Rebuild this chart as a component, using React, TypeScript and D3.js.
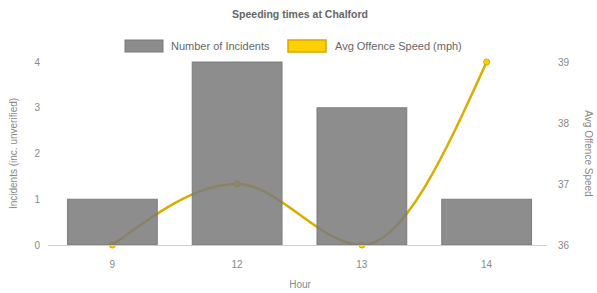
import React from "react";
import * as d3 from "d3";

const hours = ["9", "12", "13", "14"];
const incidents = [1, 4, 3, 1];
const avgSpeed = [36, 37, 36, 39];
const leftTicks = [0, 1, 2, 3, 4];
const rightTicks = [36, 37, 38, 39];

const W = 597;
const H = 293;
const margin = { left: 50, right: 48, top: 62, bottom: 48 };
const FONT = "'Liberation Sans', Arial, Helvetica, sans-serif";

export default function App() {
  const x = d3
    .scaleBand<string>()
    .domain(hours)
    .range([margin.left, W - margin.right])
    .paddingInner(0)
    .paddingOuter(0);
  const yL = d3.scaleLinear().domain([0, 4]).range([H - margin.bottom, margin.top]);
  const yR = d3.scaleLinear().domain([36, 39]).range([H - margin.bottom, margin.top]);
  const bw = x.bandwidth() * 0.72;
  const cx = (h: string) => (x(h) as number) + x.bandwidth() / 2;

  const line = d3
    .line<number>()
    .x((_, i) => cx(hours[i]))
    .y((d) => yR(d))
    .curve(d3.curveMonotoneX);

  const y0 = yL(0);
  return (
    <svg
      width={W}
      height={H}
      style={{ position: "absolute", left: 0, top: 0, background: "#fff" }}
      fontFamily={FONT}
    >
      <text x={300} y={18} textAnchor="middle" fontSize={10.5} fontWeight="bold" fill="#666">
        Speeding times at Chalford
      </text>
      {/* legend */}
      <rect x={125} y={40} width={38} height={12} fill="#8c8c8c" stroke="#7a7a7a" strokeWidth={1} />
      <text x={171} y={50} fontSize={11} fill="#666">Number of Incidents</text>
      <rect x={288} y={40} width={38} height={12} fill="#ffd000" stroke="#d4a800" strokeWidth={1.5} />
      <text x={335} y={50} fontSize={11} fill="#666">Avg Offence Speed (mph)</text>

      {/* line series (drawn beneath bars) */}
      <path d={line(avgSpeed) || ""} fill="none" stroke="#d9ad00" strokeWidth={2.5} />
      {avgSpeed.map((v, i) => (
        <circle key={i} cx={cx(hours[i])} cy={yR(v)} r={3} fill="#ffd000" stroke="#d4a800" />
      ))}

      {/* bars */}
      {hours.map((h, i) => (
        <rect
          key={h}
          x={cx(h) - bw / 2}
          y={yL(incidents[i])}
          width={bw}
          height={y0 - yL(incidents[i])}
          fill="#7a7a7a"
          fillOpacity={0.86}
          stroke="#777"
          strokeOpacity={0.9}
          strokeWidth={1}
        />
      ))}

      {/* axis line */}
      <line x1={margin.left - 2} x2={W - margin.right - 2} y1={y0 + 0.5} y2={y0 + 0.5} stroke="#ccc" />

      {/* left ticks */}
      {leftTicks.map((t) => (
        <text key={t} x={40} y={yL(t) + 3.5} textAnchor="end" fontSize={10} fill="#888">
          {t}
        </text>
      ))}
      {/* right ticks */}
      {rightTicks.map((t) => (
        <text key={t} x={558} y={yR(t) + 3.5} textAnchor="start" fontSize={10} fill="#888">
          {t}
        </text>
      ))}
      {/* x ticks */}
      {hours.map((h) => (
        <text key={h} x={cx(h)} y={268} textAnchor="middle" fontSize={10} fill="#888">
          {h}
        </text>
      ))}

      {/* axis titles */}
      <text
        transform={`translate(17,${(margin.top + y0) / 2}) rotate(-90)`}
        textAnchor="middle"
        fontSize={10}
        fill="#888"
      >
        Incidents (inc. unverified)
      </text>
      <text
        transform={`translate(585,${(margin.top + y0) / 2}) rotate(90)`}
        textAnchor="middle"
        fontSize={10}
        fill="#888"
      >
        Avg Offence Speed
      </text>
      <text x={300} y={288} textAnchor="middle" fontSize={10} fill="#888">
        Hour
      </text>
    </svg>
  );
}
